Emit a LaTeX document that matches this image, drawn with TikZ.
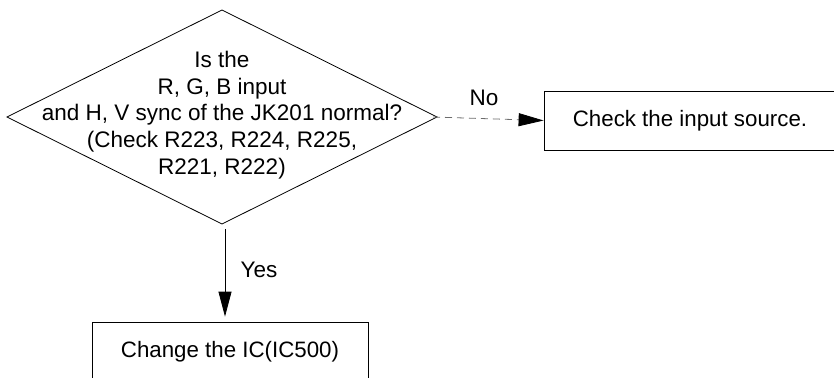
\documentclass[tikz,border=0pt]{standalone}
\usepackage{fontspec}
\setmainfont{Liberation Sans}
\usetikzlibrary{shapes.geometric,arrows.meta}
\begin{document}
\begin{tikzpicture}[x=1pt,y=-1pt,
  lbl/.style={font=\fontsize{22.5}{26.7}\selectfont, inner sep=0pt, align=center},
  box/.style={draw, line width=0.8pt, inner sep=0pt, font=\fontsize{22.3}{26}\selectfont},
  dec/.style={draw, diamond, line width=0.8pt, inner sep=0pt, outer sep=0pt, minimum width=430pt, minimum height=214pt},
  arr/.style={line width=0.8pt, -{Triangle[length=25pt,width=13pt,color=black]}}]
\useasboundingbox (0,0) rectangle (834,377);
\clip (0,0) rectangle (834,377);
\node[dec] (d) at (222,117) {};
\node[lbl] (dt) at (222,115) {Is the\\R, G, B input\\and H, V sync of the JK201 normal?\\(Check R223, R224, R225,\\R221, R222)};
\node[box, minimum width=292pt, minimum height=59pt] (r) at (690,120.5) {Check the input source.};
\node[box, minimum width=276pt, minimum height=60pt] (b) at (230,352) {Change the IC(IC500)};
\draw[arr, gray!85!black, dash pattern=on 7pt off 5pt] ([xshift=-4pt]d.east) -- (r.west);
\draw[arr] ([xshift=3pt,yshift=-5pt]d.south) -- ([xshift=-5pt,yshift=5pt]b.north);
\node[lbl] (no) at (484,98) {No};
\node[lbl] (yes) at (259,270) {Yes};
\end{tikzpicture}
\end{document}
